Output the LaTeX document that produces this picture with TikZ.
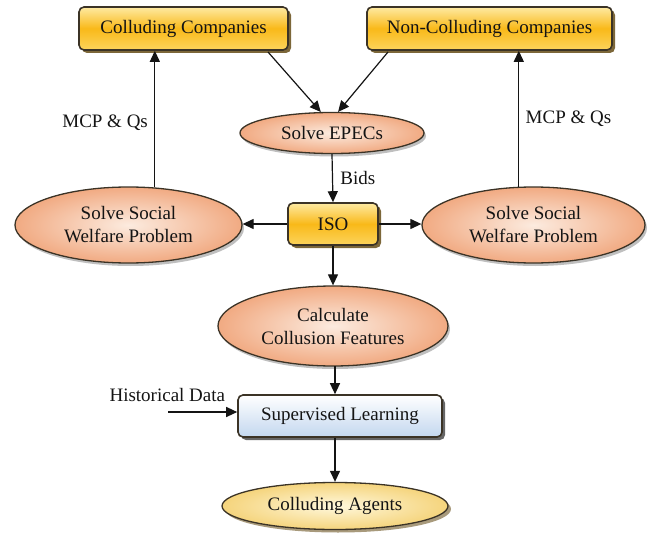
\documentclass[tikz,border=0pt]{standalone}
\usepackage{fontspec}
\setmainfont{Liberation Serif}
\usetikzlibrary{arrows.meta,shadows,shapes.geometric}
\definecolor{yelA}{HTML}{FEEAA2}
\definecolor{yelB}{HTML}{F9B919}
\definecolor{yelC}{HTML}{FCD45C}
\definecolor{salIn}{HTML}{FCEBDF}
\definecolor{salOut}{HTML}{F1AA82}
\definecolor{bluA}{HTML}{FFFFFF}
\definecolor{bluB}{HTML}{C3D7EF}
\definecolor{agIn}{HTML}{FFF8DC}
\definecolor{agOut}{HTML}{F5D47C}
\definecolor{edge}{HTML}{3B3326}
\definecolor{shad}{HTML}{6E5624}
\definecolor{ink}{HTML}{141414}
\begin{document}
\begin{tikzpicture}[x=1pt,y=-1pt,
  txt/.style={font=\fontsize{19}{23}\selectfont, text=ink, align=center},
  ybox/.style={txt, draw=edge, line width=1.6pt, rounded corners=5pt,
    top color=yelA, bottom color=yelC, middle color=yelB,
    drop shadow={shadow xshift=3pt, shadow yshift=-3pt, fill=shad, opacity=0.9},
    minimum height=43pt, inner sep=0pt},
  sell/.style={txt, ellipse, draw=edge, line width=1.3pt, inner sep=0pt,
    inner color=salIn, outer color=salOut,
    drop shadow={shadow xshift=2pt, shadow yshift=-3pt, fill=black, opacity=0.25}},
  bbox/.style={txt, draw=edge, line width=1.6pt, rounded corners=5pt,
    top color=bluA, bottom color=bluB,
    drop shadow={shadow xshift=3pt, shadow yshift=-3pt, fill=black, opacity=0.6},
    minimum height=42pt, inner sep=0pt},
  gell/.style={txt, ellipse, draw=edge, line width=1.3pt, inner sep=0pt,
    inner color=agIn, outer color=agOut,
    drop shadow={shadow xshift=3pt, shadow yshift=-3pt, fill=shad, opacity=0.6}},
  arr/.style={draw=ink, line width=1.2pt, -{Triangle[length=11pt,width=10pt]}},
  lbl/.style={txt}
]
\useasboundingbox (0,0) rectangle (648,535);

\node[ybox, minimum width=209pt] (cc) at (183.5,28.5) {Colluding Companies};
\node[ybox, minimum width=245pt] (ncc) at (489.5,28.5) {Non-Colluding Companies};
\node[sell, minimum width=184pt, minimum height=41pt] (epec) at (332,133) {Solve EPECs};
\node[ybox, minimum width=90pt, minimum height=42pt] (iso) at (333,224) {ISO};
\node[sell, minimum width=227pt, minimum height=76pt] (swl) at (128.5,225) {Solve Social\\Welfare Problem};
\node[sell, minimum width=223pt, minimum height=76pt] (swr) at (533.5,225) {Solve Social\\Welfare Problem};
\node[sell, minimum width=230pt, minimum height=80pt] (calc) at (333,326) {Calculate\\Collusion Features};
\node[bbox, minimum width=204pt] (sup) at (340,416) {Supervised Learning};
\node[gell, minimum width=226pt, minimum height=47pt] (ag) at (335,506) {Colluding Agents};

\coordinate (c1) at (268,52);
\coordinate (c2) at (388,52);
\draw[arr] (c1) -- (epec.118);
\draw[arr] (c2) -- (epec.74);

\draw[arr] (epec.south) -- (iso.north) node[lbl, midway, right=4pt] (bids) {Bids};
\draw[arr] (iso.west) -- (iso.west -| swl.east);
\draw[arr] (iso.east) -- (iso.east -| swr.west);
\draw[arr] (iso.south) -- (calc.north);

\draw[arr] (swl.55) -- (swl.55 |- cc.south) node[lbl, pos=0.47, left=3pt] (mcpl) {MCP \& Qs};
\draw[arr] (swr.111) -- (swr.111 |- ncc.south) node[lbl, pos=0.5, right=3pt] (mcpr) {MCP \& Qs};

\coordinate (calcb) at (335,366);
\draw[arr] (calcb) -- (calcb |- sup.north);

\coordinate (hd) at (168,412);
\node[lbl, anchor=south west] (hdl) at (106,405) {Historical Data};
\draw[arr] (hd) -- (hd -| sup.west);

\draw[arr] (sup.south -| ag.north) -- (ag.north);
\end{tikzpicture}
\end{document}
